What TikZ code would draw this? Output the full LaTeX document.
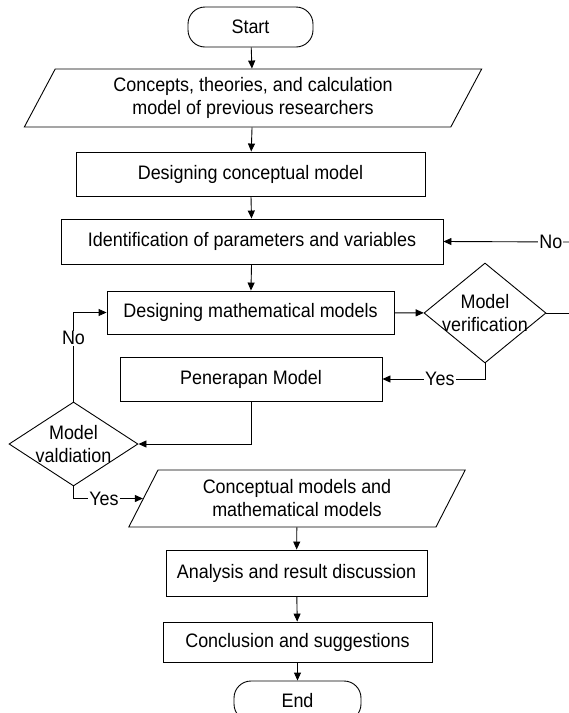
\documentclass[tikz,border=0pt]{standalone}
\usepackage{fontspec}
\setmainfont{Liberation Sans}[FakeStretch=0.92]
\usetikzlibrary{arrows.meta,shapes.geometric}
\tikzset{
  terminal/.style={draw=black,rectangle,rounded corners=17pt,minimum width=125pt,
    minimum height=40pt,line width=0.9pt},
  process/.style={draw=black,rectangle,line width=0.9pt,inner sep=2pt},
  inout/.style={draw=black,trapezium,trapezium left angle=65,trapezium right angle=115,
    trapezium stretches=true,line width=0.9pt,align=center},
  decision/.style={draw=black,diamond,inner sep=0pt,line width=0.9pt},
  decisiontext/.style={align=center,inner sep=0pt},
  flow/.style={-{Triangle[length=8pt,width=7pt]},line width=0.9pt},
  plain/.style={line width=0.9pt},
  flowlabel/.style={fill=white,inner sep=1pt}
}

\begin{document}
\begin{tikzpicture}[x=1pt,y=-1pt,font=\fontsize{19.5}{23}\selectfont]
  \useasboundingbox (0,0) rectangle (569,713);
  \node[terminal] (start) at (250.5,27) {Start};
  \node[inout,minimum width=458pt,minimum height=58pt] (concepts) at (253,98)
    {Concepts, theories, and calculation\\model of previous researchers};
  \node[process,minimum width=349pt,minimum height=44pt] (concmodel) at (250.5,174)
    {Designing conceptual model};
  \node[process,minimum width=382pt,minimum height=45pt] (ident) at (252,241.5)
    {Identification of parameters and variables};
  \node[process,minimum width=287pt,minimum height=43pt] (mathmodel) at (250.5,312.5)
    {Designing mathematical models};
  \node[decision,minimum width=122pt,minimum height=100pt,
    label={[decisiontext]center:Model\\verification}] (verif) at (485,313) {};
  \node[process,minimum width=262pt,minimum height=44pt] (apply) at (251,379)
    {Penerapan Model};
  \node[decision,minimum width=129pt,minimum height=84pt,
    label={[decisiontext]center:Model\\valdiation}] (valid) at (73.5,444) {};
  \node[inout,minimum width=337pt,minimum height=57pt] (models) at (297,498.5)
    {Conceptual models and\\mathematical models};
  \node[process,minimum width=261pt,minimum height=46pt] (analysis) at (296.5,573)
    {Analysis and result discussion};
  \node[process,minimum width=269pt,minimum height=40pt] (concl) at (297.5,642)
    {Conclusion and suggestions};
  \node[terminal,minimum width=127pt] (end) at (297.5,701) {End};
  \coordinate (verifout) at (569,313);
  \coordinate (noin) at (569,242);

  \draw[flow] (start) -- (concepts);
  \draw[flow] (concepts) -- (concmodel);
  \draw[flow] (concmodel) -- (ident);
  \draw[flow] (ident) -- (mathmodel);
  \draw[flow] (mathmodel) -- (verif);
  \draw[plain] (verif.east) -- (verifout);
  \draw[flow] (noin) -- node[flowlabel,pos=0.145] {No} (ident.east);
  \draw[flow] (verif.south) |- node[flowlabel,pos=0.72] {Yes} (apply.east);
  \draw[flow] (apply.south) |- (valid.east);
  \draw[flow] (valid.north) |- node[flowlabel,pos=0.355] {No} (mathmodel.west);
  \draw[flow] (valid.south) |- node[flowlabel,pos=0.72] {Yes} (models.west);
  \draw[flow] (models) -- (analysis);
  \draw[flow] (analysis) -- (concl);
  \draw[flow] (concl) -- (end);
\end{tikzpicture}
\end{document}
